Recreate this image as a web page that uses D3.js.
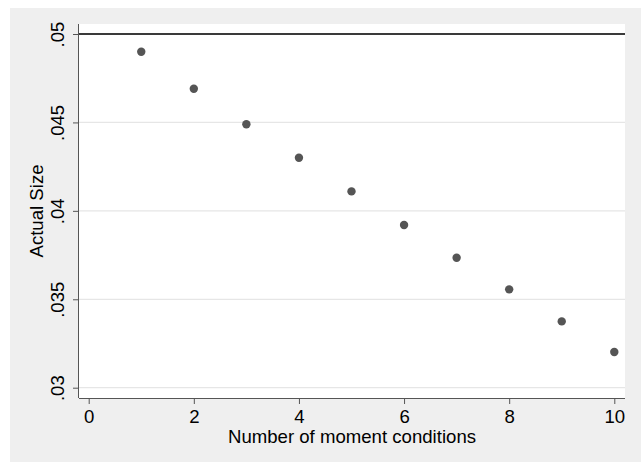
<!DOCTYPE html>
<html>
<head>
<meta charset="utf-8">
<script src="https://cdn.jsdelivr.net/npm/d3@7"></script>
<style>
  body { margin: 0; background: #fff; }
  svg text { font-family: "Liberation Sans", Arial, Helvetica, sans-serif; }
</style>
</head>
<body>
<div id="chart"></div>
<script>
// moment conditions vs actual size
let moments = [1, 2, 3, 4, 5, 6, 7, 8, 9, 10];
let actualSize = [0.0490, 0.0469, 0.0449, 0.0430, 0.0411, 0.0392, 0.03735, 0.03556, 0.03375, 0.03202];
let xTicks = [0, 2, 4, 6, 8, 10];
let yTicks = [0.03, 0.035, 0.04, 0.045, 0.05];
let nominal = 0.05;

let W = 644, H = 462;
let plot = {left: 79, right: 625, top: 24, bottom: 398};

let svg = d3.select("#chart")
  .append("svg")
  .attr("width", W)
  .attr("height", H);

// outer grey background
svg.append("rect")
  .attr("x", 10).attr("y", 8)
  .attr("width", 631).attr("height", H - 8)
  .attr("fill", "#efefef");

// white plot region
svg.append("rect")
  .attr("x", plot.left).attr("y", plot.top)
  .attr("width", plot.right - plot.left)
  .attr("height", plot.bottom - plot.top)
  .attr("fill", "#fff");

let x = d3.scaleLinear()
  .domain([0, 10])
  .range([88.7, 614.3]);

let y = d3.scaleLinear()
  .domain([0.03, 0.05])
  .range([387.7, 34]);

// gridlines
svg.append("g")
  .selectAll("line")
  .data(yTicks)
  .enter()
  .append("line")
  .attr("x1", plot.left)
  .attr("x2", plot.right)
  .attr("y1", d => y(d))
  .attr("y2", d => y(d))
  .attr("stroke", "#e6e6e6")
  .attr("stroke-width", 1.3);

// reference line at nominal size
svg.append("line")
  .attr("x1", plot.left)
  .attr("x2", plot.right)
  .attr("y1", y(nominal))
  .attr("y2", y(nominal))
  .attr("stroke", "#3a3a3a")
  .attr("stroke-width", 2);

// x axis
let xAxis = svg.append("g")
  .attr("transform", "translate(0," + plot.bottom + ")")
  .call(d3.axisBottom(x).tickValues(xTicks).tickSize(6).tickSizeOuter(0).tickFormat(d3.format("d")));
xAxis.select(".domain")
  .attr("d", "M" + plot.left + ",0.5H" + plot.right)
  .attr("stroke", "#555");
xAxis.selectAll(".tick line").attr("stroke", "#555");
xAxis.selectAll(".tick text")
  .attr("y", 25)
  .attr("dy", null)
  .attr("fill", "#000")
  .style("font-size", "18.6px");

// y axis
let yAxis = svg.append("g")
  .attr("transform", "translate(" + plot.left + ",0)")
  .call(d3.axisLeft(y).tickValues(yTicks).tickSize(6).tickSizeOuter(0)
    .tickFormat(d => d3.format(".3~f")(d).replace(/^0/, "")));
yAxis.select(".domain")
  .attr("d", "M-0.5," + plot.top + "V" + plot.bottom)
  .attr("stroke", "#555");
yAxis.selectAll(".tick line").attr("stroke", "#555");
yAxis.selectAll(".tick text")
  .attr("x", 0)
  .attr("dy", null)
  .attr("text-anchor", "middle")
  .attr("transform", "translate(-15,0) rotate(-90)")
  .attr("fill", "#000")
  .style("font-size", "18.6px");

// points
svg.append("g")
  .selectAll("circle")
  .data(moments)
  .enter()
  .append("circle")
  .attr("cx", d => x(d))
  .attr("cy", (d, i) => y(actualSize[i]))
  .attr("r", 4.2)
  .attr("fill", "#555");

// axis titles
svg.append("text")
  .attr("x", (plot.left + plot.right) / 2)
  .attr("y", 443)
  .attr("text-anchor", "middle")
  .style("font-size", "18.6px")
  .text("Number of moment conditions");

svg.append("text")
  .attr("transform", "translate(43," + (plot.top + plot.bottom) / 2 + ") rotate(-90)")
  .attr("text-anchor", "middle")
  .style("font-size", "18.6px")
  .text("Actual Size");
</script>
</body>
</html>
